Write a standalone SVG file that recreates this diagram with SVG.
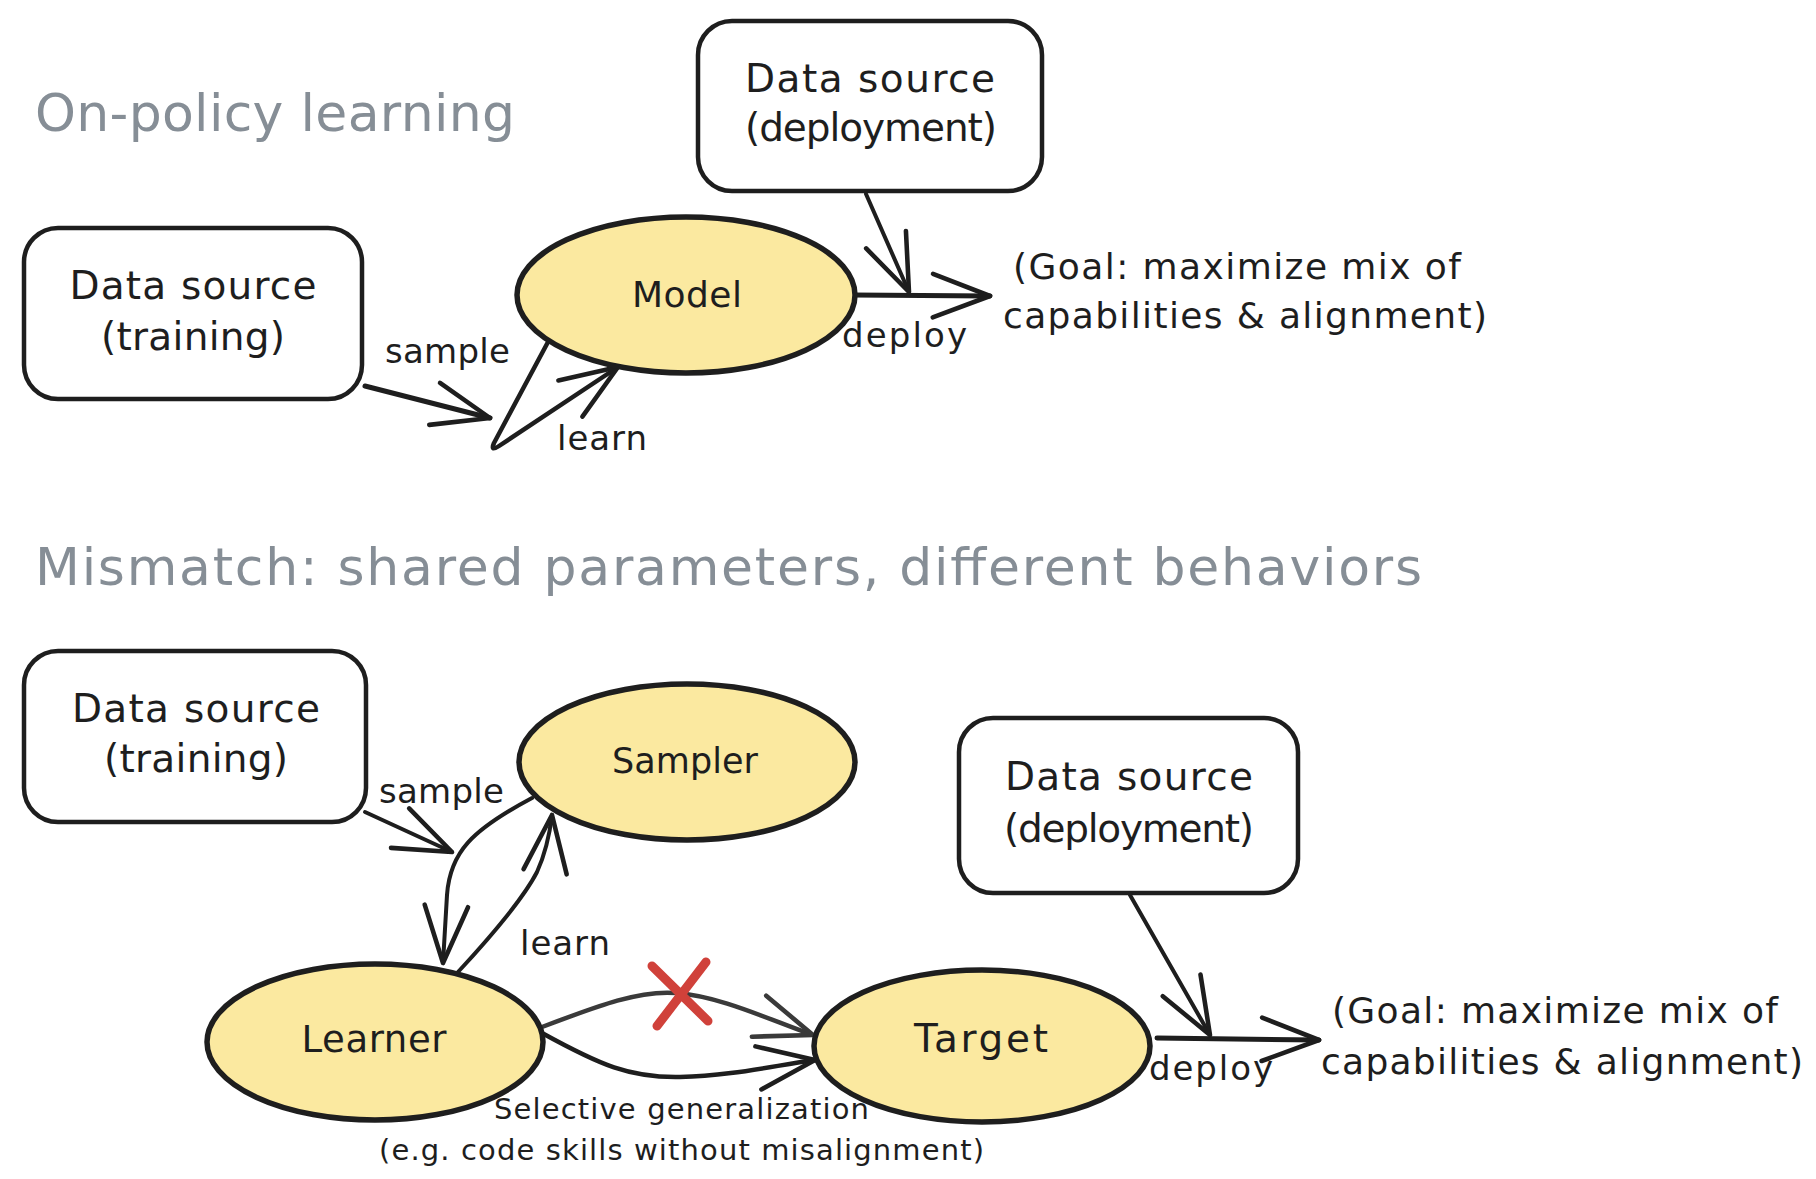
<svg xmlns="http://www.w3.org/2000/svg" width="1816" height="1179" viewBox="0 0 1816 1179">
<defs>
<style>
.t{font-family:"DejaVu Sans","Liberation Sans",sans-serif;fill:#1e1e1e}
.title{font-family:"DejaVu Sans","Liberation Sans",sans-serif;fill:#868e96;font-size:52px}
.box{fill:#ffffff;stroke:#1e1e1e;stroke-width:4.5}
.ell{fill:#fbe9a0;stroke:#1e1e1e;stroke-width:5.5}
.node{font-size:39px;text-anchor:middle}
.lbl{font-size:34px}
.goal{font-size:36px}
.small{font-size:29px}
.c{fill:none;stroke:#1e1e1e;stroke-width:4;stroke-linecap:round;stroke-linejoin:round}
.c2{fill:none;stroke:#3a3a3a;stroke-width:4.5;stroke-linecap:round;stroke-linejoin:round}
.x{fill:none;stroke:#d0413a;stroke-width:9;stroke-linecap:round}
</style>
<marker id="ah" markerUnits="userSpaceOnUse" markerWidth="80" markerHeight="80" refX="0" refY="0" viewBox="-60 -30 70 60" orient="auto" overflow="visible">
<path d="M -50 -19 L 0 0 L -50 19" fill="none" stroke="#1e1e1e" stroke-width="4" stroke-linecap="round" stroke-linejoin="round"/>
</marker>
<marker id="ah2" markerUnits="userSpaceOnUse" markerWidth="80" markerHeight="80" refX="0" refY="0" viewBox="-60 -30 70 60" orient="auto" overflow="visible">
<path d="M -50 -19 L 0 0 L -50 19" fill="none" stroke="#3a3a3a" stroke-width="4" stroke-linecap="round" stroke-linejoin="round"/>
</marker>
</defs>
<rect width="1816" height="1179" fill="#ffffff"/>

<text id="title-onpolicy" class="title" x="35" y="131" textLength="480">On-policy learning</text>
<text id="title-mismatch" class="title" x="35" y="585" textLength="1387">Mismatch: shared parameters, different behaviors</text>

<g id="connectors">
<path class="c" style="stroke-width:5" d="M 365 386 L 490 418" marker-end="url(#ah)"/>
<path class="c" style="stroke-width:4.5" d="M 548 342 L 494 443 Q 490 452 499 446 L 618 367" marker-end="url(#ah)"/>
<path class="c" style="stroke-width:5" d="M 853 295 L 990 296" marker-end="url(#ah)"/>
<path class="c" d="M 866 194 L 909 292" marker-end="url(#ah)"/>

<path class="c" d="M 365 812 L 452 852" marker-end="url(#ah)"/>
<path class="c" d="M 532 798 C 472 830 450 852 447 895 L 443 963" marker-end="url(#ah)"/>
<path class="c" d="M 458 972 Q 520 905 537 872 Q 548 848 552 815" marker-end="url(#ah)"/>
<path class="c2" d="M 542 1027 C 600 1005 640 990 676 993 C 720 996 770 1020 813 1035" marker-end="url(#ah2)"/>
<path class="c" style="stroke-width:4.5" d="M 542 1033 C 600 1065 630 1078 680 1077 C 730 1076 772 1066 815 1060" marker-end="url(#ah)"/>
<path class="x" d="M 652 966 L 708 1021 M 706 962 L 657 1026"/>
<path class="c" d="M 1130 895 L 1210 1035" marker-end="url(#ah)"/>
<path class="c" style="stroke-width:5" d="M 1157 1038 L 1319 1040" marker-end="url(#ah)"/>
</g>

<g id="data-deploy-top">
<rect class="box" x="698" y="21" width="344" height="170" rx="34"/>
<text class="t node" x="870" y="92" textLength="250">Data source</text>
<text class="t node" x="871" y="141" textLength="252">(deployment)</text>
</g>

<g id="data-train-top">
<rect class="box" x="24" y="228" width="338" height="171" rx="34"/>
<text class="t node" x="193" y="299" textLength="247">Data source</text>
<text class="t node" x="193" y="350" textLength="184">(training)</text>
</g>

<g id="model">
<ellipse class="ell" cx="686" cy="295" rx="169" ry="78"/>
<text class="t node" style="font-size:36px" x="687" y="307" textLength="110">Model</text>
</g>

<g id="labels-top">
<text class="t lbl" x="385" y="363" textLength="125">sample</text>
<text class="t lbl" x="557" y="450" textLength="90">learn</text>
<text class="t lbl" x="842" y="347" textLength="125">deploy</text>
<text class="t goal" x="1013" y="279" textLength="448">(Goal: maximize mix of</text>
<text class="t goal" x="1003" y="328" textLength="484">capabilities &amp; alignment)</text>
</g>

<g id="data-train-bottom">
<rect class="box" x="24" y="651" width="342" height="171" rx="34"/>
<text class="t node" x="196" y="722" textLength="248">Data source</text>
<text class="t node" x="196" y="772" textLength="184">(training)</text>
</g>

<g id="sampler">
<ellipse class="ell" cx="687" cy="762" rx="168" ry="78"/>
<text class="t node" style="font-size:35px" x="685" y="773" textLength="146">Sampler</text>
</g>

<g id="learner">
<ellipse class="ell" cx="375" cy="1042" rx="168" ry="78"/>
<text class="t node" style="font-size:37px" x="374" y="1052" textLength="145">Learner</text>
</g>

<g id="target">
<ellipse class="ell" cx="982" cy="1046" rx="168" ry="76"/>
<text class="t node" x="981" y="1052" textLength="134">Target</text>
</g>

<g id="data-deploy-bottom">
<rect class="box" x="959" y="718" width="339" height="175" rx="34"/>
<text class="t node" x="1129" y="790" textLength="248">Data source</text>
<text class="t node" x="1129" y="842" textLength="250">(deployment)</text>
</g>

<g id="labels-bottom">
<text class="t lbl" x="379" y="803" textLength="125">sample</text>
<text class="t lbl" x="520" y="955" textLength="90">learn</text>
<text class="t lbl" x="1149" y="1080" textLength="124">deploy</text>
<text class="t goal" x="1332" y="1023" textLength="446">(Goal: maximize mix of</text>
<text class="t goal" x="1321" y="1074" textLength="482">capabilities &amp; alignment)</text>
<text class="t small" x="494" y="1119" textLength="375">Selective generalization</text>
<text class="t small" x="379" y="1160" textLength="605">(e.g. code skills without misalignment)</text>
</g>
</svg>
